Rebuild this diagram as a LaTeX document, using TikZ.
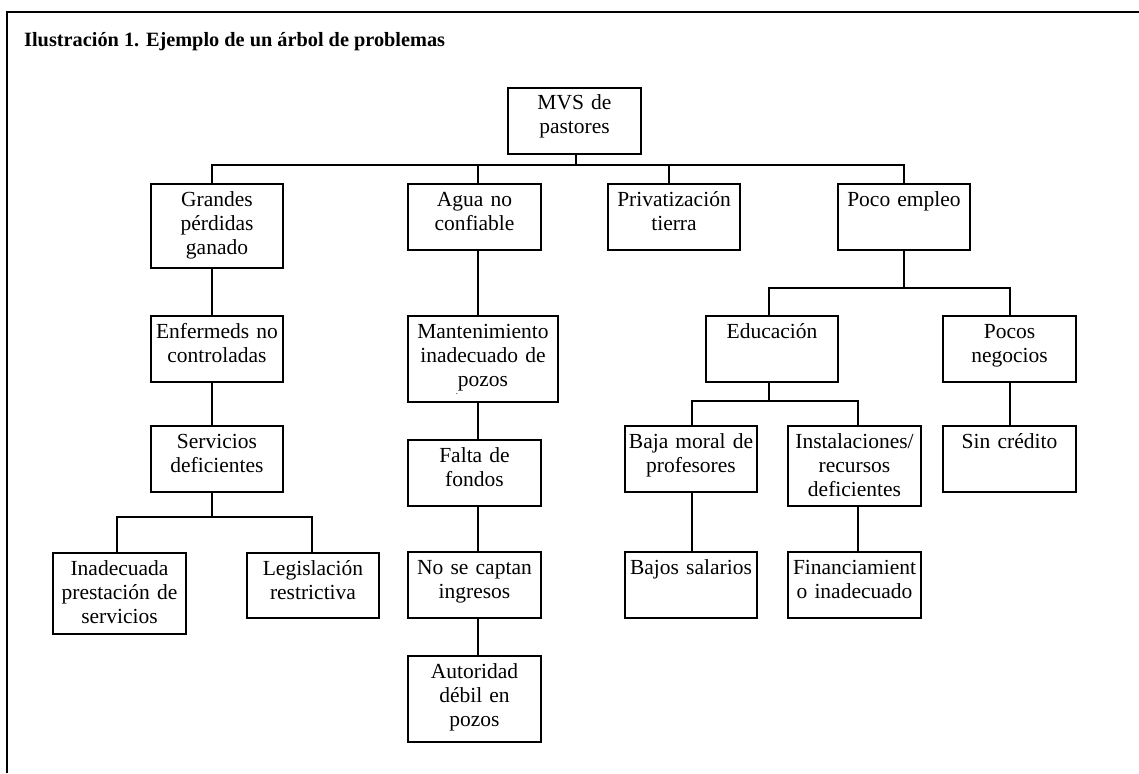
\documentclass[tikz,border=0pt]{standalone}
\usepackage{fontspec}
\setmainfont{Liberation Serif}
\newcommand\bodyfont{\fontsize{21.5}{24}\selectfont}
\begin{document}
\begin{tikzpicture}[x=1pt,y=-1pt,
  bx/.style={draw, line width=2pt, inner sep=0pt, align=center, anchor=north west, text height=22pt, font=\bodyfont},
  ln/.style={line width=2pt},
  frame/.style={line width=2.5pt}]
\useasboundingbox (0,0) rectangle (1139,773);
\draw[frame] (1139,12) -- (7,12) -- (7,773);
\node[anchor=base west, inner sep=0pt, font=\bfseries\fontsize{20.3}{24}\selectfont] (title) at (24,47) {Ilustración 1. Ejemplo de un árbol de problemas};

% boxes
\node[bx, text width=133pt, text depth=44pt] (mvs) at (507,87) {MVS de\\pastores};
\node[bx, text width=132pt, text depth=62pt] (grandes) at (150,183) {Grandes\\pérdidas\\ganado};
\node[bx, text width=133pt, text depth=44pt] (agua) at (407,183) {Agua no\\confiable};
\node[bx, text width=132pt, text depth=44pt] (priv) at (607,183) {Privatización\\tierra};
\node[bx, text width=132pt, text depth=44pt] (poco) at (837,183) {Poco empleo};
\node[bx, text width=132pt, text depth=44pt] (enf) at (150,315) {Enfermeds no\\controladas};
\node[bx, text width=150pt, text depth=64pt] (mant) at (407,315) {Mantenimiento\\inadecuado de\\pozos};
\node[inner sep=0pt, font=\fontsize{9}{9}\selectfont] (dot) at (457,394) {.};
\node[bx, text width=132pt, text depth=44pt] (edu) at (705,315) {Educación};
\node[bx, text width=133pt, text depth=44pt] (pocos) at (942,315) {Pocos\\negocios};
\node[bx, text width=132pt, text depth=44pt] (serv) at (150,425) {Servicios\\deficientes};
\node[bx, text width=133pt, text depth=44pt] (falta) at (407,439) {Falta de\\fondos};
\node[bx, text width=132pt, text depth=44pt] (baja) at (624,425) {Baja moral de\\profesores};
\node[bx, text width=133pt, text depth=58pt] (inst) at (787,425) {Instalaciones/\\recursos\\deficientes};
\node[bx, text width=133pt, text depth=44pt] (sin) at (942,425) {Sin crédito};
\node[bx, text width=133pt, text depth=59pt] (inad) at (52,552) {Inadecuada\\prestación de\\servicios};
\node[bx, text width=132pt, text depth=43pt] (legis) at (246,552) {Legislación\\restrictiva};
\node[bx, text width=133pt, text depth=44pt] (nocap) at (407,551) {No se captan\\ingresos};
\node[bx, text width=132pt, text depth=44pt] (bajos) at (624,551) {Bajos salarios};
\node[bx, text width=133pt, text depth=44pt] (fin) at (787,551) {Financiamient\\o inadecuado};
\node[bx, text width=133pt, text depth=64pt] (aut) at (407,655) {Autoridad\\débil en\\pozos};

% connector x positions and junctions
\coordinate (xg) at (212,0);
\coordinate (xa) at (478,0);
\coordinate (xp) at (669,0);
\coordinate (xe) at (904,0);
\coordinate (xed) at (769,0);
\coordinate (xpn) at (1010,0);
\coordinate (xbm) at (692,0);
\coordinate (xin) at (858,0);
\coordinate (xinad) at (117,0);
\coordinate (xleg) at (312,0);
\coordinate (j1) at (576,165);
\coordinate (j2) at (212,517);
\coordinate (j3) at (904,288);
\coordinate (j4) at (769,401);

% connectors
\draw[ln] (mvs.south -| j1) -- (j1);
\draw[ln] (grandes.north -| xg) |- (j1) -| (poco.north -| xe);
\draw[ln] (agua.north -| xa) -- (xa |- j1);
\draw[ln] (priv.north -| xp) -- (xp |- j1);
\draw[ln] (grandes.south -| xg) -- (enf.north -| xg);
\draw[ln] (enf.south -| xg) -- (serv.north -| xg);
\draw[ln] (serv.south -| xg) -- (j2);
\draw[ln] (inad.north -| xinad) |- (j2) -| (legis.north -| xleg);
\draw[ln] (agua.south -| xa) -- (mant.north -| xa);
\draw[ln] (mant.south -| xa) -- (falta.north -| xa);
\draw[ln] (falta.south -| xa) -- (nocap.north -| xa);
\draw[ln] (nocap.south -| xa) -- (aut.north -| xa);
\draw[ln] (poco.south -| xe) -- (j3);
\draw[ln] (edu.north -| xed) |- (j3) -| (pocos.north -| xpn);
\draw[ln] (edu.south -| xed) -- (j4);
\draw[ln] (baja.north -| xbm) |- (j4) -| (inst.north -| xin);
\draw[ln] (pocos.south -| xpn) -- (sin.north -| xpn);
\draw[ln] (baja.south -| xbm) -- (bajos.north -| xbm);
\draw[ln] (inst.south -| xin) -- (fin.north -| xin);
\end{tikzpicture}
\end{document}
